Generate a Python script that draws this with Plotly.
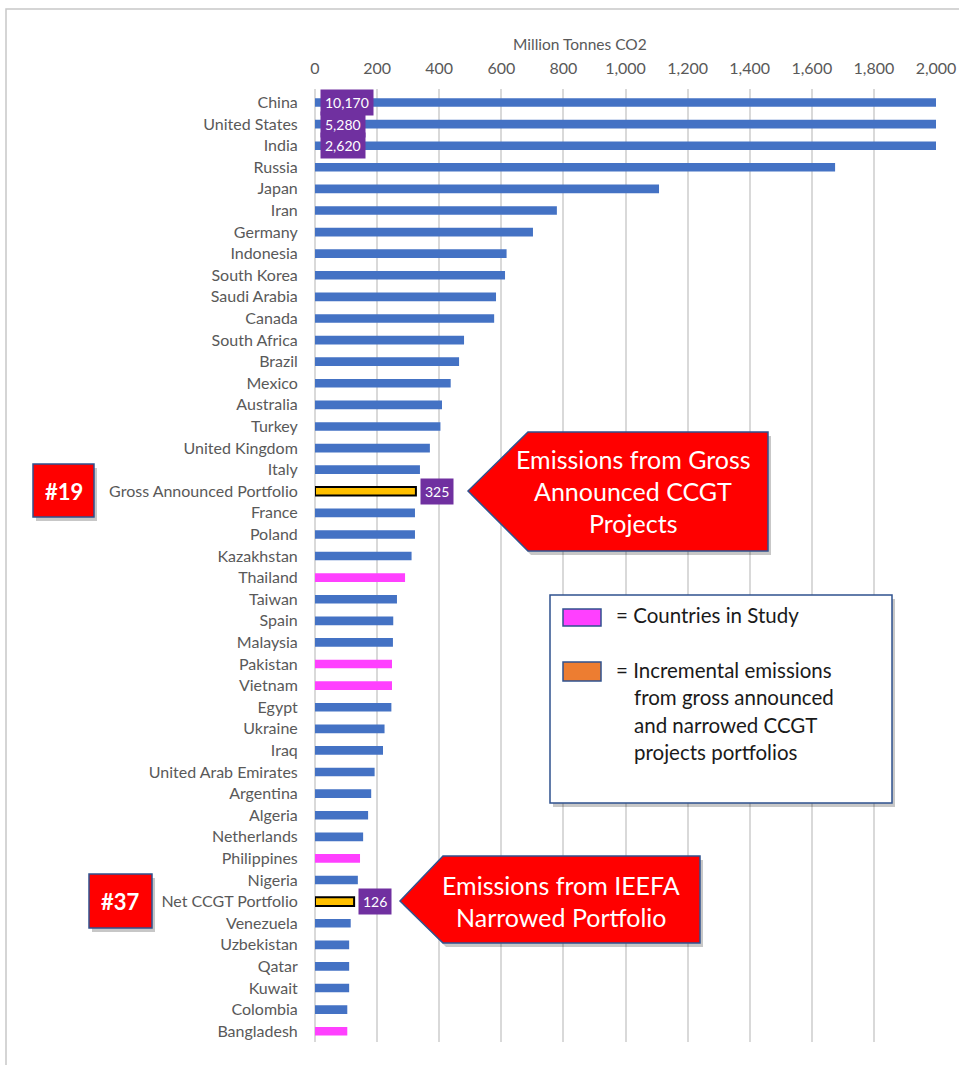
import plotly.graph_objects as go

# ---------------- data ----------------
categories = [
    "China", "United States", "India", "Russia", "Japan", "Iran", "Germany",
    "Indonesia", "South Korea", "Saudi Arabia", "Canada", "South Africa",
    "Brazil", "Mexico", "Australia", "Turkey", "United Kingdom", "Italy",
    "Gross Announced Portfolio", "France", "Poland", "Kazakhstan", "Thailand",
    "Taiwan", "Spain", "Malaysia", "Pakistan", "Vietnam", "Egypt", "Ukraine",
    "Iraq", "United Arab Emirates", "Argentina", "Algeria", "Netherlands",
    "Philippines", "Nigeria", "Net CCGT Portfolio", "Venezuela", "Uzbekistan",
    "Qatar", "Kuwait", "Colombia", "Bangladesh",
]
emissions = [
    10170, 5280, 2620, 1675, 1108, 779, 702,
    617, 612, 583, 577, 480,
    464, 437, 409, 404, 370, 338,
    325, 322, 322, 311, 290,
    264, 252, 251, 248, 248, 246, 224,
    219, 192, 181, 171, 155,
    145, 138, 126, 115, 110,
    110, 110, 104, 104,
]
study_countries = ["Thailand", "Pakistan", "Vietnam", "Philippines", "Bangladesh"]
portfolios = ["Gross Announced Portfolio", "Net CCGT Portfolio"]
base_labelled = ["China", "United States", "India"]
x_ticks = [0, 200, 400, 600, 800, 1000, 1200, 1400, 1600, 1800, 2000]

# ---------------- styling ----------------
BLUE = "#4472C4"
PINK = "#FF40FF"
GOLD = "#FFC000"
ORANGE = "#ED7D31"
PURPLE = "#7030A0"
RED = "#FF0000"
NAVY = "#2F528F"
GRID = "#D9D9D9"
TXT = "#595959"
FONT = "Lato"

W, H = 959, 1065
ML, MR, MT, MB = 315, 23, 89, 23
PW, PH = W - ML - MR, H - MT - MB


def px(x):
    return (x - ML) / PW


def py(y):
    return (H - MB - y) / PH


colors = []
lines_w = []
for c in categories:
    if c in portfolios:
        colors.append(GOLD)
        lines_w.append(2)
    elif c in study_countries:
        colors.append(PINK)
        lines_w.append(0)
    else:
        colors.append(BLUE)
        lines_w.append(0)

fig = go.Figure()
fig.add_trace(go.Bar(
    y=categories, x=emissions, orientation="h", width=0.4,
    marker=dict(color=colors, line=dict(color="black", width=lines_w)),
    hoverinfo="x+y", showlegend=False,
))

annotations = []
# value labels
for c, v in zip(categories, emissions):
    if c in base_labelled:
        annotations.append(dict(
            x=0, y=c, xref="x", yref="y", text=f"{v:,}", showarrow=False,
            xanchor="left", xshift=5, bgcolor=PURPLE, borderpad=4,
            font=dict(family=FONT, size=14, color="white"),
        ))
    elif c in portfolios:
        annotations.append(dict(
            x=v, y=c, xref="x", yref="y", text=f"{v:,}", showarrow=False,
            xanchor="left", xshift=4, bgcolor=PURPLE, borderpad=4,
            font=dict(family=FONT, size=14, color="white"),
        ))


def ptxt(x, y, text, size, color, anchor="center", bold=False):
    if bold:
        text = f"<b>{text}</b>"
    annotations.append(dict(
        x=px(x), y=py(y), xref="paper", yref="paper", text=text,
        showarrow=False, xanchor=anchor, yanchor="middle",
        font=dict(family=FONT, size=size, color=color),
    ))


# axis title
ptxt(580, 44, "Million Tonnes CO2", 15.5, TXT)

shapes = []


def poly(points, fill, line_color=NAVY, lw=1.5, shadow=True):
    def path(pts, dx=0, dy=0):
        return "M " + " L ".join(f"{px(x + dx)},{py(y + dy)}" for x, y in pts) + " Z"
    if shadow:
        shapes.append(dict(type="path", xref="paper", yref="paper",
                           path=path(points, 3, 4), fillcolor="rgba(0,0,0,0.22)",
                           line=dict(width=0), layer="above"))
    shapes.append(dict(type="path", xref="paper", yref="paper",
                       path=path(points), fillcolor=fill,
                       line=dict(color=line_color, width=lw), layer="above"))


def rect(x0, y0, x1, y1, fill, line_color=NAVY, lw=1.5, shadow=True):
    poly([(x0, y0), (x1, y0), (x1, y1), (x0, y1)], fill, line_color, lw, shadow)


# outer chart border
shapes.append(dict(type="rect", xref="paper", yref="paper",
                   x0=px(6), y0=py(9), x1=px(990), y1=py(1100),
                   line=dict(color="#C8C8C8", width=1.5), fillcolor="rgba(0,0,0,0)",
                   layer="below"))

# callout arrows
poly([(468, 491), (528, 432), (768, 432), (768, 551), (528, 551)], RED)
ptxt(633, 459, "Emissions from Gross", 25, "white")
ptxt(633, 491, "Announced CCGT", 25, "white")
ptxt(633, 523, "Projects", 25, "white")

poly([(400, 901), (443, 856), (700, 856), (700, 943), (443, 943)], RED)
ptxt(561, 885, "Emissions from IEEFA", 25, "white")
ptxt(561, 917, "Narrowed Portfolio", 25, "white")

# rank boxes
rect(33, 464, 94, 517, RED)
ptxt(63.5, 491, "#19", 22, "white", bold=True)
rect(89, 874, 152, 928, RED)
ptxt(120.5, 901, "#37", 22, "white", bold=True)

# legend box
rect(550, 595, 892, 803, "white")
rect(563, 609, 601, 626, PINK, shadow=False)
rect(563, 662, 601, 681, ORANGE, shadow=False)
LEG = 20.5
ptxt(614, 615, "= Countries in Study", LEG, "#1a1a1a", anchor="left")
ptxt(614, 670, "= Incremental emissions", LEG, "#1a1a1a", anchor="left")
ptxt(632, 697, "from gross announced", LEG, "#1a1a1a", anchor="left")
ptxt(632, 725, "and narrowed CCGT", LEG, "#1a1a1a", anchor="left")
ptxt(632, 752, "projects portfolios", LEG, "#1a1a1a", anchor="left")

fig.update_layout(
    width=W, height=H, autosize=False,
    margin=dict(l=ML, r=MR, t=MT, b=MB, pad=0, autoexpand=False),
    paper_bgcolor="white", plot_bgcolor="white",
    font=dict(family=FONT, size=16, color=TXT),
    bargap=0.6,
    annotations=annotations,
    shapes=shapes,
    xaxis=dict(
        side="top", range=[0, 2000], tickvals=x_ticks, tickformat=",",
        showgrid=True, gridcolor=GRID, gridwidth=1.5,
        zeroline=True, zerolinecolor=GRID, zerolinewidth=1.5,
        showline=False, ticks="outside", ticklen=8, tickcolor="rgba(0,0,0,0)",
        tickfont=dict(family=FONT, size=16, color=TXT), fixedrange=True,
    ),
    yaxis=dict(
        autorange="reversed", showgrid=False, zeroline=False, showline=False,
        ticks="outside", ticklen=13, tickcolor="rgba(0,0,0,0)",
        tickfont=dict(family=FONT, size=16, color=TXT), fixedrange=True,
    ),
)

post = (
    "document.documentElement.style.margin='0';"
    "document.documentElement.style.padding='0';"
    "document.documentElement.style.overflow='hidden';"
    "document.body.style.margin='0';"
    "document.body.style.padding='0';"
    "document.body.style.overflow='hidden';"
)
fig.write_html("out.html", post_script=post, config={"displayModeBar": False})
